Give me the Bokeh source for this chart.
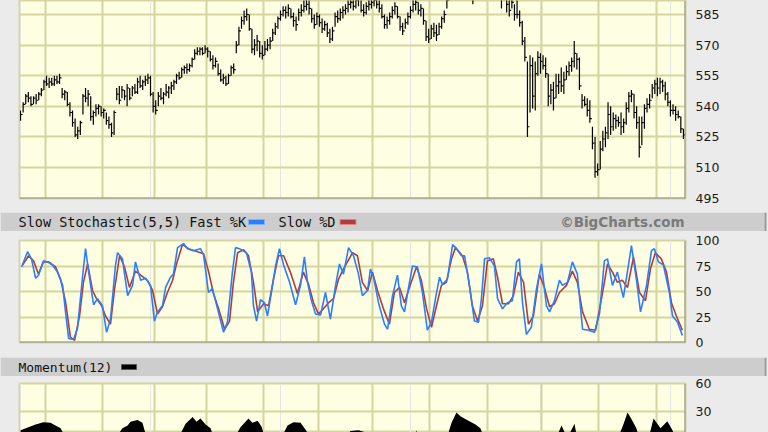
from bokeh.plotting import figure
from bokeh.layouts import column
from bokeh.models import FixedTicker, Range1d, Span, Grid, BoxAnnotation
from bokeh.embed import file_html
from bokeh.resources import INLINE
from bokeh.core.properties import value

# ---------------- data ----------------
# daily price bars (trading-day index 0..255)
price_low = [
    533,537,541,542,540,541,541,543,545,548, 550,549,550,550,551,551,544,543,540,535,
    530,525,524,526,536,542,540,533,531,535, 536,535,534,531,529,525,526,543,541,544,
    543,540,543,545,546,546,549,548,550,551, 545,537,536,540,543,541,545,544,546,548,
    551,553,554,556,556,557,559,563,565,565, 565,566,564,562,558,559,555,552,551,550,
    551,555,556,566,570,578,580,582,577,566, 565,567,564,563,565,567,568,572,575,578,
    582,584,583,584,583,579,577,582,584,586, 587,585,581,578,580,579,576,577,574,571,
    572,579,581,582,583,585,586,588,587,588, 589,586,584,585,587,588,589,588,586,583,
    578,578,580,583,585,583,577,575,578,580, 583,586,587,585,584,580,572,571,573,574,
    572,575,578,581,588,592,594,595,596,594, 593,594,596,594,590,593,595,596,597,595,
    594,596,597,595,593,588,592,586,584,588, 582,583,579,570,562,525,537,539,538,555,
    556,558,554,540,541,538,544,546,547,546, 553,555,557,559,558,548,539,540,535,532,
    519,505,506,509,518,520,524,526,528,529, 530,526,527,531,537,542,534,529,515,521,
    529,537,539,544,546,545,546,547,543,540, 535,536,533,534,527,524]
price_high = [
    538,542,546,547,545,545,546,547,549,553, 555,554,554,555,555,556,549,548,547,542,
    538,534,530,533,546,549,548,545,538,541, 541,540,539,537,535,532,538,549,550,550,
    548,551,549,550,551,554,555,553,555,556, 555,547,543,547,549,547,551,550,552,553,
    556,557,559,560,561,561,564,568,569,569, 569,570,569,567,565,564,561,558,556,555,
    556,560,561,572,579,584,587,588,585,578, 573,575,572,570,572,573,574,578,581,584,
    587,589,589,590,588,586,584,588,590,592, 593,592,588,585,586,585,583,582,581,578,
    579,586,587,588,589,590,592,594,593,594, 595,592,590,591,593,594,595,593,592,590,
    585,584,586,589,591,589,584,581,583,586, 589,592,593,591,590,588,582,578,580,581,
    580,581,584,587,594,598,600,601,602,600, 599,601,602,600,597,599,601,603,603,601,
    600,602,603,602,599,596,598,594,592,594, 590,592,587,582,574,562,565,564,562,567,
    566,565,564,556,551,552,556,556,559,557, 560,562,564,572,566,564,546,545,544,543,
    530,525,512,523,528,530,542,540,537,536, 535,537,534,542,547,548,546,540,535,535,
    541,544,546,551,553,554,554,553,552,547, 543,541,540,538,535,529]
price_close = [
    536,541,545,544,541,544,543,546,548,552, 551,552,551,553,552,554,546,547,541,537,
    532,526,528,532,545,544,546,535,537,539, 540,537,538,533,531,527,537,546,543,548,
    545,549,544,549,547,552,550,552,553,554, 546,540,538,545,544,546,547,549,550,552,
    555,554,558,559,558,560,563,566,567,568, 566,568,567,563,560,562,556,553,554,551,
    555,559,558,570,577,582,584,585,578,568, 570,572,566,565,568,570,572,576,579,583,
    585,587,586,588,584,582,580,586,587,589, 590,588,583,580,584,581,578,580,576,573,
    577,584,583,586,587,588,590,591,589,592, 593,587,586,589,590,591,592,590,588,584,
    580,582,584,587,589,584,579,577,581,584, 587,590,591,587,588,582,574,573,578,576,
    575,579,583,585,592,596,598,599,600,597, 595,599,600,596,595,597,599,601,600,598,
    597,600,601,598,596,594,595,590,587,591, 585,585,581,572,564,530,560,545,556,564,
    562,560,556,545,548,544,550,552,550,553, 557,560,562,566,563,550,543,541,538,534,
    522,508,509,519,524,527,536,530,534,533, 532,530,532,539,545,546,537,532,520,532,
    539,541,543,549,551,549,552,550,546,542, 538,538,536,535,529,526]
day = list(range(len(price_close)))

# Slow Stochastic(5,5): Fast %K (blue) and Slow %D (red)
k_day = [0.4,2.7,4.2,5.8,6.9,8.8,10.4,12.3,14.2,16.2, 17.3,18.5,20.4,21.9,23.8,25.0,26.2,28.1,29.6,31.5,
         33.1,34.6,36.5,37.3,39.2,41.2,43.1,44.2,46.2,48.1, 50.0,51.5,52.7,54.6,55.8,57.7,58.8,60.4,62.7,64.2,
         66.5,69.2,70.4,72.3,73.8,75.8,78.1,79.6,81.5,82.7, 84.2,86.9,88.8,89.6,90.8,92.3,93.8,95.0,96.5,98.1,
         99.6,101.2,103.5,105.8,107.7,109.2,110.4,111.9,113.5,115.4, 117.3,119.2,121.2,122.7,124.2,126.2,128.1,130.0,131.5,133.5,
         134.6,135.8,137.7,140.0,141.2,143.1,145.0,146.5,147.7,149.2, 150.8,152.7,154.6,156.5,158.1,159.6,161.2,162.3,164.2,166.2,
         167.7,169.6,170.8,172.7,174.6,176.2,177.3,178.5,180.4,182.3, 183.5,185.4,187.3,189.2,190.8,191.9,193.1,194.6,196.5,198.5,
         200.4,202.3,203.5,205.4,207.3,208.5,210.4,212.3,214.2,216.2, 218.5,220.8,222.7,224.6,225.8,227.7,229.6,231.9,233.5,235.0,
         236.9,238.5,240.8,242.7,243.8,245.4,247.3,249.6,250.8,252.7, 254.6]
k_val = [74,89,82,63,66,80,79,76,69,56, 30,4,3,14,63,92,69,37,43,36,
         10,23,75,88,82,46,56,79,61,63, 56,21,30,36,54,64,67,93,97,92,
         90,92,86,49,53,33,10,20,69,93, 92,88,69,36,21,42,39,26,49,75,
         92,76,59,37,56,84,59,41,28,27, 49,23,56,77,67,93,85,67,46,51,
         72,64,39,18,13,46,66,36,30,53, 75,74,49,12,20,43,64,57,62,96,
         92,85,85,56,21,20,43,82,83,75, 43,33,39,41,79,82,39,8,15,53,
         77,36,30,41,61,56,59,79,67,13, 12,10,28,80,82,56,69,44,70,95,
         62,30,56,90,92,79,76,49,26,20, 7]
d_day = [0.8,3.1,5.0,6.9,8.8,10.8,13.5,15.4,17.3,19.2, 20.8,22.7,24.2,25.8,27.7,29.2,31.2,32.7,34.6,36.2,
         38.1,40.0,41.9,44.2,46.2,48.8,50.8,52.7,54.6,56.5, 58.5,60.0,62.3,64.6,68.1,70.4,72.3,74.2,76.2,78.5,
         80.4,81.9,83.5,85.8,87.7,89.6,91.2,93.5,95.4,97.3, 99.2,101.2,103.8,106.5,108.8,110.8,112.7,114.6,116.5,118.5,
         120.4,122.3,124.2,127.7,129.6,131.5,133.5,135.4,137.3,139.6, 141.9,143.8,145.8,147.7,149.6,152.3,154.2,156.2,158.1,160.0,
         161.9,163.8,165.8,167.3,170.0,171.9,173.8,175.8,177.7,179.6, 181.9,183.5,185.4,187.7,189.6,191.5,193.5,195.4,197.3,199.6,
         201.5,203.5,205.4,207.3,210.0,212.3,214.2,216.2,218.8,221.2, 223.5,225.8,227.7,229.6,231.5,233.5,235.8,238.1,240.4,242.3,
         244.2,246.5,248.5,250.4,252.3,254.6]
d_val = [76,85,80,67,79,79,74,62,40,5, 2,26,59,77,51,43,36,26,18,53,
         85,74,54,70,66,61,51,28,35,49, 61,77,96,92,89,87,70,48,33,13,
         21,59,88,91,85,59,30,38,36,62, 85,85,69,48,69,57,39,28,33,39,
         43,62,72,88,85,59,51,69,51,33, 18,49,54,39,54,74,61,33,15,36,
         56,59,82,93,85,69,36,21,36,80, 82,64,38,38,46,69,59,18,26,67,
         54,35,38,49,56,70,59,30,13,12, 43,77,69,59,61,54,84,49,41,72,
         88,82,69,39,26,12]

# Momentum(12) (only the upper part is visible)
m_day = [0,5.8,8.8,11.5,15.4,17.7,27,36.2,39.2,41.2, 42.3,45.0,46.9,48.5,55,60.4,63.5,66.2,67.7,69.2,
         71.2,73.1,74.6,78,81.9,84.6,87.7,89.2,91.2,92.7, 94.2,97,100,102.7,105,107.7,110,111.2,118,124.2,
         126.9,130,132.3,133.8,143,151.5,152.3,153.1,158,163.8, 165.8,167.7,169.2,172.3,175,176.9,178.5,192,205.8,208.1,
         209.6,211.5,213.1,214.2,222,229.6,231.9,233.5,235,236.9, 238.1,240,241.5,243.5,246.2,248.8,250.8,251.9,255]
m_val = [10,16,18.5,18,12,0,-12,0,12,15, 19,21,18,2,-10,0,17,24,19,22.5,
         16,12,0,-6,0,13,22.5,18,20,14, 0,-5,0,15,18.5,18,9,0,-10,0,
         9,10,8,0,-8,0,10,0,-6,0, 18,29,25,20,16,12,0,-15,0,15,
         6,8,17,0,-10,0,16,29,22,12, 0,-2,0,22.5,12,19.6,10,0,-12]

month_ticks = [9.5, 31.5, 51.5, 71.5, 93.5, 114.5, 135.5, 157.5, 179.5, 200.5, 222.5, 244.5]
price_ticks = [495, 510, 525, 540, 555, 570, 585]
stoch_ticks = [0, 25, 50, 75, 100]
mom_ticks = [30, 60]

# ---------------- styling ----------------
W = 768
FL, FW = 19, 666
FR = W - FL - FW
BG = "#ebebeb"
PLOT_BG = "#fefee2"
GRID = "#d5d5a0"
BAND = "#cdcdcd"
SHADOW = "#8e8e8e"
EDGE = "#9a9a9a"
BLUE = "#2a7fff"
RED = "#b23c3c"
X0, X1 = -0.4, 255.8


def no_align(fig):
    if hasattr(fig, "frame_align"):
        fig.frame_align = False
    return fig


def edge_line(fig, top, bottom):
    # thin dark border line at the right edge of the chart image
    fig.add_layout(BoxAnnotation(left=764, right=766, top=top, bottom=bottom,
                                 left_units="canvas", right_units="canvas",
                                 top_units="canvas", bottom_units="canvas",
                                 fill_color=EDGE, fill_alpha=1, line_color=None))


def panel(top, fh, bottom, y0, y1, ticks, gridticks):
    p = figure(frame_width=FW, frame_height=fh, output_backend="svg", toolbar_location=None,
               x_range=Range1d(X0, X1), y_range=Range1d(y0, y1),
               x_axis_location=None, y_axis_location="right",
               min_border_left=FL, min_border_right=FR, min_border_top=top, min_border_bottom=bottom,
               background_fill_color=PLOT_BG, border_fill_color=BG)
    no_align(p)
    p.outline_line_color = GRID
    p.outline_line_width = 2
    ax = p.yaxis[0]
    ax.ticker = FixedTicker(ticks=ticks)
    ax.axis_line_color = None
    ax.major_tick_line_color = None
    ax.minor_tick_line_color = None
    ax.major_tick_out = 0
    ax.major_tick_in = 0
    ax.major_label_standoff = 10
    ax.major_label_text_font = "DejaVu Sans"
    ax.major_label_text_font_size = "12.5px"
    ax.major_label_text_color = "#1a1a1a"
    p.ygrid.ticker = FixedTicker(ticks=gridticks)
    p.ygrid.grid_line_color = GRID
    p.ygrid.grid_line_width = 2
    p.add_layout(Grid(dimension=0, ticker=FixedTicker(ticks=month_ticks),
                      grid_line_color=GRID, grid_line_width=2))
    p.add_layout(Span(location=X1, dimension="height", line_color=SHADOW, line_width=2))
    return p


def header(height):
    h = figure(frame_width=W, frame_height=height, output_backend="svg", toolbar_location=None,
               x_range=Range1d(0, W), y_range=Range1d(0, height),
               x_axis_location=None, y_axis_location=None, min_border=0,
               background_fill_color=BG, border_fill_color=BG)
    no_align(h)
    h.outline_line_color = None
    h.grid.visible = False
    h.quad(left=[0], right=[764], bottom=[0], top=[height], fill_color=BAND, line_color=None)
    h.quad(left=[764], right=[766], bottom=[0], top=[height], fill_color=EDGE, line_color=None)
    return h


# price panel
pp = panel(0, 198, 14, 494.85, 591.87, price_ticks, [510, 525, 540, 555, 570, 585])
pp.add_layout(Span(location=494.85, dimension="width", line_color=SHADOW, line_width=2))
edge_line(pp, 202, 212)
pp.segment(x0=day, y0=price_low, x1=day, y1=price_high, line_color="black", line_width=1.2)
pp.ray(x=day, y=price_close, length=2, length_units="screen", angle=0,
       line_color="black", line_width=1.2)

# stochastic header
h1 = header(19)
mono = value("DejaVu Sans Mono")
h1.text(x=[18], y=[9.5], text=["Slow Stochastic(5,5) Fast %K"], text_font=mono,
        text_font_size="13.5px", text_baseline="middle", text_color="#111111")
h1.rect(x=[256], y=[9.5], width=16, height=5, fill_color=BLUE, line_color="#7fb2ff", line_width=1)
h1.text(x=[278], y=[9.5], text=["Slow %D"], text_font=mono,
        text_font_size="13.5px", text_baseline="middle", text_color="#111111")
h1.rect(x=[347.5], y=[9.5], width=16, height=5, fill_color=RED, line_color="#d88a8a", line_width=1)
h1.text(x=[684], y=[9.5], text=["©BigCharts.com"], text_font=value("DejaVu Sans"),
        text_font_style="bold", text_font_size="13.5px", text_baseline="middle",
        text_align="right", text_color="#7a7a7a")

# stochastic panel
ps = panel(9, 102, 15, 0, 100, stoch_ticks, [25, 50, 75])
ps.add_layout(Span(location=0, dimension="width", line_color=SHADOW, line_width=2))
edge_line(ps, 0, 126)
ps.line(d_day, d_val, line_color=RED, line_width=1.6)
ps.line(k_day, k_val, line_color=BLUE, line_width=1.6)

# momentum header
h2 = header(19)
h2.text(x=[18], y=[9.5], text=["Momentum(12)"], text_font=mono,
        text_font_size="13px", text_baseline="middle", text_color="#111111")
h2.rect(x=[128.5], y=[9.5], width=15, height=5, fill_color="black", line_color="#555555", line_width=1)

# momentum panel
pm = panel(7, 49, 0, 7.5, 60, mom_ticks, [0, 30])
edge_line(pm, 0, 56)
pm.varea(x=m_day, y1=0, y2=m_val, fill_color="black")

layout = column(pp, h1, ps, h2, pm, spacing=0, background=BG)

open("out.html", "w").write(file_html(layout, INLINE))
